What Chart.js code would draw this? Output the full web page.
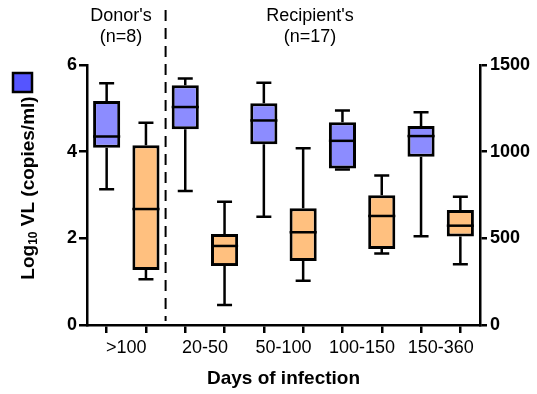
<!DOCTYPE html>
<html><head><meta charset="utf-8">
<script src="https://cdn.jsdelivr.net/npm/chart.js@4/dist/chart.umd.min.js"></script>
<style>html,body{margin:0;padding:0;background:#fff}canvas{display:block}</style>
</head><body>
<canvas id="c" width="537" height="394"></canvas>
<script>
// ---- data ----
const groups = ['>100', '20-50', '50-100', '100-150', '150-360'];
// blue boxes, Log10 VL (left axis)
const vlMin    = [3.13, 3.09, 2.50, 3.59, 2.05];
const vlQ1     = [4.09, 4.52, 4.17, 3.61, 3.88];
const vlMedian = [4.35, 5.03, 4.72, 4.25, 4.36];
const vlQ3     = [5.17, 5.53, 5.12, 4.68, 4.59];
const vlMax    = [5.58, 5.69, 5.59, 4.95, 4.91];
// orange boxes (right axis)
const rMin    = [264, 115, 256, 413, 350];
const rQ1     = [317, 340, 369, 438, 510];
const rMedian = [669, 456, 535, 629, 573];
const rQ3     = [1037, 525, 673, 748, 663];
const rMax    = [1167, 711, 1019, 862, 740];
const leftTicks  = [0, 2, 4, 6];
const rightTicks = [0, 500, 1000, 1500];
const headers = [
  {lines: ["Donor's", "(n=8)"], x: 121},
  {lines: ["Recipient's", "(n=17)"], x: 310}
];

const FONT = '"Liberation Sans", Arial, sans-serif';
Chart.defaults.font.family = FONT;
Chart.defaults.color = '#000';

// slots: each group has a blue slot then an orange slot
const slotLabels = groups.flatMap(g => [g, '']);
function slotArray(vals, offset) {
  const a = new Array(groups.length * 2).fill(null);
  vals.forEach((v, i) => { a[i * 2 + offset] = v; });
  return a;
}
const blueBoxes   = slotArray(groups.map((g, i) => [vlQ1[i], vlQ3[i]]), 0);
const orangeBoxes = slotArray(groups.map((g, i) => [rQ1[i], rQ3[i]]), 1);

const boxPlugin = {
  id: 'boxParts',
  beforeDatasetsDraw(chart) {
    const ctx = chart.ctx;
    chart.data.datasets.forEach((ds, di) => {
      const meta = chart.getDatasetMeta(di);
      const ys = chart.scales[ds.yAxisID];
      meta.data.forEach((el, j) => {
        if (ds.data[j] == null) return;
        const lo = ys.getPixelForValue(ds.wMin[j]);
        const hi = ys.getPixelForValue(ds.wMax[j]);
        const q1 = ys.getPixelForValue(ds.data[j][0]);
        const q3 = ys.getPixelForValue(ds.data[j][1]);
        ctx.save();
        ctx.strokeStyle = '#000';
        ctx.lineWidth = 2.5;
        ctx.beginPath();
        ctx.moveTo(el.x, q3); ctx.lineTo(el.x, hi);
        ctx.moveTo(el.x, q1); ctx.lineTo(el.x, lo);
        ctx.moveTo(el.x - 7.5, hi); ctx.lineTo(el.x + 7.5, hi);
        ctx.moveTo(el.x - 7.5, lo); ctx.lineTo(el.x + 7.5, lo);
        ctx.stroke();
        ctx.restore();
      });
    });
  },
  afterDatasetsDraw(chart) {
    const ctx = chart.ctx;
    chart.data.datasets.forEach((ds, di) => {
      const meta = chart.getDatasetMeta(di);
      const ys = chart.scales[ds.yAxisID];
      meta.data.forEach((el, j) => {
        if (ds.data[j] == null) return;
        const m = ys.getPixelForValue(ds.wMed[j]);
        ctx.save();
        ctx.strokeStyle = '#000';
        ctx.lineWidth = 2.5;
        ctx.beginPath();
        ctx.moveTo(el.x - el.width / 2, m); ctx.lineTo(el.x + el.width / 2, m);
        ctx.stroke();
        ctx.restore();
      });
    });
  },
  afterDraw(chart) {
    const ctx = chart.ctx;
    const xs = chart.scales.x;
    // dashed separator between donors and recipients
    const sx = (xs.getPixelForValue(1) + xs.getPixelForValue(2)) / 2;
    ctx.save();
    ctx.strokeStyle = '#000';
    ctx.lineWidth = 2;
    ctx.setLineDash([11, 7]);
    ctx.beginPath();
    ctx.moveTo(sx, 10); ctx.lineTo(sx, chart.chartArea.bottom - 4);
    ctx.stroke();
    ctx.setLineDash([]);
    // headers
    ctx.fillStyle = '#000';
    ctx.font = '18px ' + FONT;
    ctx.textAlign = 'center';
    ctx.textBaseline = 'alphabetic';
    headers.forEach(h => {
      ctx.fillText(h.lines[0], h.x, 21);
      ctx.fillText(h.lines[1], h.x, 42);
    });
    // legend square for the left axis series
    ctx.fillStyle = '#5555ff';
    ctx.fillRect(13, 73, 19, 19);
    ctx.lineWidth = 2.5;
    ctx.strokeStyle = '#000';
    ctx.strokeRect(13, 73, 19, 19);
    // y title with subscript
    ctx.fillStyle = '#000';
    const parts = [['Log', 'bold 19px ' + FONT, 0], ['10', 'bold 12px ' + FONT, 3], [' VL (copies/ml)', 'bold 19px ' + FONT, 0]];
    let total = 0;
    parts.forEach(p => { ctx.font = p[1]; p.w = ctx.measureText(p[0]).width; total += p.w; });
    ctx.translate(34, 188);
    ctx.rotate(-Math.PI / 2);
    ctx.textAlign = 'left';
    let px = -total / 2;
    parts.forEach(p => { ctx.font = p[1]; ctx.fillText(p[0], px, p[2]); px += p.w; });
    ctx.restore();
  }
};

new Chart(document.getElementById('c'), {
  type: 'bar',
  data: {
    labels: slotLabels,
    datasets: [
      {
        label: 'Log10 VL', data: blueBoxes, yAxisID: 'y',
        wMin: slotArray(vlMin, 0), wMed: slotArray(vlMedian, 0), wMax: slotArray(vlMax, 0),
        backgroundColor: '#8c8cff', borderColor: '#000', borderWidth: 3, borderSkipped: false,
        grouped: false, barPercentage: 0.69, categoryPercentage: 1
      },
      {
        label: 'right', data: orangeBoxes, yAxisID: 'y1',
        wMin: slotArray(rMin, 1), wMed: slotArray(rMedian, 1), wMax: slotArray(rMax, 1),
        backgroundColor: '#ffc07f', borderColor: '#000', borderWidth: 3, borderSkipped: false,
        grouped: false, barPercentage: 0.69, categoryPercentage: 1
      }
    ]
  },
  options: {
    responsive: false,
    animation: false,
    layout: {padding: {top: 65, left: 0, right: 0, bottom: 0}},
    plugins: {legend: {display: false}, tooltip: {enabled: false}},
    scales: {
      x: {
        afterFit(s) { s.height = 69; },
        grid: {offset: false, drawOnChartArea: false, drawTicks: true, tickLength: 8, color: '#000', lineWidth: 2.5},
        border: {display: true, color: '#000', width: 2.5},
        ticks: {font: {size: 18}, color: '#000', maxRotation: 0, autoSkip: false, labelOffset: 19.65, padding: 4},
        title: {display: true, text: 'Days of infection', font: {size: 19, weight: 'bold'}, color: '#000', padding: {top: 0, bottom: 4}}
      },
      y: {
        position: 'left', min: 0, max: 6,
        afterFit(s) { s.width = 87; },
        afterBuildTicks(s) { s.ticks = leftTicks.map(v => ({value: v})); },
        grid: {drawOnChartArea: false, drawTicks: true, tickLength: 8, color: '#000', lineWidth: 2.5},
        border: {display: true, color: '#000', width: 2.5},
        ticks: {font: {size: 18, weight: 'bold'}, color: '#000', padding: 2, callback: v => String(v)}
      },
      y1: {
        position: 'right', min: 0, max: 1500,
        afterFit(s) { s.width = 57; },
        afterBuildTicks(s) { s.ticks = rightTicks.map(v => ({value: v})); },
        grid: {drawOnChartArea: false, drawTicks: true, tickLength: 7, color: '#000', lineWidth: 2.5},
        border: {display: true, color: '#000', width: 2.5},
        ticks: {font: {size: 18, weight: 'bold'}, color: '#000', padding: 3, callback: v => String(v)}
      }
    }
  },
  plugins: [boxPlugin]
});
</script>
</body></html>
